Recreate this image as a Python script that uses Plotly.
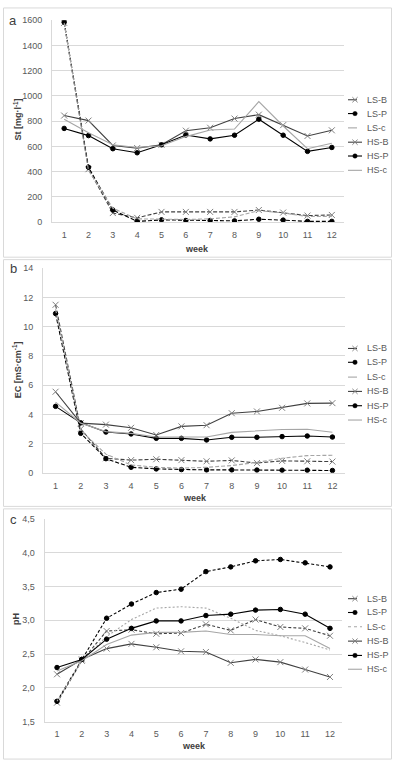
import plotly.graph_objects as go

W, H = 395, 769

# ---------------- data ----------------
weeks = list(range(1, 13))
week_labels = [str(w) for w in weeks]
series_names = ["LS-B", "LS-P", "LS-c", "HS-B", "HS-P", "HS-c"]

st_LS_B = [1580, 420, 72, 34, 81, 81, 81, 81, 96, 76, 52, 57]
st_LS_P = [1585, 435, 96, 6, 18, 13, 13, 10, 23, 16, 6, 6]
st_LS_c = [1580, 410, 110, 26, 24, 21, 26, 42, 91, 73, 44, 46]
st_HS_B = [845, 805, 608, 587, 613, 725, 748, 821, 852, 769, 683, 728]
st_HS_P = [743, 686, 582, 550, 613, 691, 660, 689, 816, 689, 561, 592]
st_HS_c = [815, 709, 613, 592, 605, 678, 730, 738, 955, 762, 582, 626]

ec_LS_B = [11.5, 3.0, 1.0, 0.87, 0.93, 0.87, 0.79, 0.85, 0.67, 0.82, 0.79, 0.77]
ec_LS_P = [10.9, 2.7, 0.97, 0.38, 0.27, 0.22, 0.2, 0.2, 0.19, 0.18, 0.18, 0.16]
ec_LS_c = [11.2, 2.9, 1.28, 0.54, 0.38, 0.32, 0.38, 0.5, 0.72, 1.0, 1.18, 1.2]
ec_HS_B = [5.55, 3.4, 3.3, 3.08, 2.59, 3.18, 3.26, 4.08, 4.2, 4.45, 4.75, 4.77]
ec_HS_P = [4.55, 3.42, 2.79, 2.66, 2.36, 2.36, 2.25, 2.43, 2.43, 2.48, 2.52, 2.45]
ec_HS_c = [4.84, 3.4, 2.82, 2.7, 2.45, 2.45, 2.45, 2.77, 2.88, 2.97, 2.98, 2.78]

ph_LS_B = [1.78, 2.40, 2.84, 2.86, 2.80, 2.81, 2.94, 2.85, 3.01, 2.90, 2.88, 2.77]
ph_LS_P = [1.80, 2.42, 3.03, 3.24, 3.41, 3.46, 3.72, 3.79, 3.88, 3.90, 3.85, 3.79]
ph_LS_c = [1.80, 2.40, 2.76, 3.01, 3.18, 3.20, 3.18, 3.03, 2.85, 2.77, 2.67, 2.56]
ph_HS_B = [2.20, 2.42, 2.58, 2.65, 2.60, 2.54, 2.53, 2.37, 2.42, 2.38, 2.27, 2.16]
ph_HS_P = [2.30, 2.42, 2.72, 2.88, 2.99, 2.99, 3.07, 3.09, 3.15, 3.16, 3.09, 2.88]
ph_HS_c = [2.25, 2.40, 2.64, 2.78, 2.82, 2.82, 2.84, 2.79, 2.79, 2.77, 2.77, 2.58]

st_ticks = [0, 200, 400, 600, 800, 1000, 1200, 1400, 1600]
ec_ticks = [0, 2, 4, 6, 8, 10, 12, 14]
ph_ticks = [1.5, 2.0, 2.5, 3.0, 3.5, 4.0, 4.5]
ph_ticktext = ["1,5", "2,0", "2,5", "3,0", "3,5", "4,0", "4,5"]

# ---------------- styles ----------------
DARK = "#404040"
LIGHT = "#a6a6a6"
XMK = "#808080"
GRID = "#d9d9d9"
TXT = "#595959"
FONT = "Liberation Sans"

styles = {
    "LS-B": dict(color=DARK, dash="4px,2px", marker="x-thin", mcolor=XMK),
    "LS-P": dict(color="#000000", dash="4px,2px", marker="circle", mcolor="#000000"),
    "LS-c": dict(color=LIGHT, dash="4px,2px", marker=None, mcolor=None),
    "HS-B": dict(color=DARK, dash="solid", marker="x-thin", mcolor=XMK),
    "HS-P": dict(color="#000000", dash="solid", marker="circle", mcolor="#000000"),
    "HS-c": dict(color=LIGHT, dash="solid", marker=None, mcolor=None),
}
ph_dash = {"LS-B": "3px,2px", "LS-P": "3px,2px", "LS-c": "2px,2px"}

panels = [
    dict(ax="", data=[st_LS_B, st_LS_P, st_LS_c, st_HS_B, st_HS_P, st_HS_c]),
    dict(ax="2", data=[ec_LS_B, ec_LS_P, ec_LS_c, ec_HS_B, ec_HS_P, ec_HS_c]),
    dict(ax="3", data=[ph_LS_B, ph_LS_P, ph_LS_c, ph_HS_B, ph_HS_P, ph_HS_c]),
]

fig = go.Figure()
for pi, p in enumerate(panels):
    for name, vals in zip(series_names, p["data"]):
        s = styles[name]
        dash = s["dash"]
        if pi == 2 and name in ph_dash:
            dash = ph_dash[name]
        mode = "lines+markers" if s["marker"] else "lines"
        mk = dict(symbol=s["marker"], size=6 if s["marker"] == "x-thin" else 4.5,
                  color=s["mcolor"], line=dict(color=s["mcolor"], width=1)) if s["marker"] else None
        fig.add_trace(go.Scatter(
            x=weeks, y=vals, name=name, mode=mode,
            line=dict(color=s["color"], width=1.1, dash=dash),
            marker=mk, showlegend=False,
            xaxis="x" + p["ax"], yaxis="y" + p["ax"],
        ))

def px(v):
    return v / W

def py(v):
    return 1 - v / H

# plot-area pixel boxes (left, right, top, bottom)
boxes = [(52, 344, 15.5, 220), (43, 345, 266.7, 474), (44.6, 342.4, 520.7, 726)]
yranges = [[0, 1600], [0, 14], [1.5, 4.5]]
yticks = [(st_ticks, [str(t) for t in st_ticks]), (ec_ticks, [str(t) for t in ec_ticks]), (ph_ticks, ph_ticktext)]

axis_font = dict(family=FONT, size=9, color=TXT)
for i, (l, r, t, b) in enumerate(boxes):
    suf = "" if i == 0 else str(i + 1)
    fig.update_layout(**{
        "xaxis" + suf: dict(domain=[px(l), px(r)], range=[0.5, 12.5], anchor="y" + suf,
                            tickvals=weeks, ticktext=week_labels, showgrid=False,
                            showline=True, linecolor=GRID, linewidth=1, zeroline=False,
                            ticks="", tickfont=axis_font, ticklabelstandoff=4, fixedrange=True),
        "yaxis" + suf: dict(domain=[py(b), py(t)], range=yranges[i], anchor="x" + suf,
                            tickvals=yticks[i][0], ticktext=yticks[i][1], showgrid=True,
                            gridcolor=GRID, gridwidth=1, showline=True, linecolor=GRID,
                            linewidth=1, zeroline=False, ticks="", tickfont=axis_font,
                            ticklabelstandoff=7, fixedrange=True),
    })

shapes = []
annotations = []

# panel frames
for (y0, y1) in [(3, 255.5), (258, 508), (510.5, 764)]:
    shapes.append(dict(type="rect", xref="paper", yref="paper", x0=px(3.5), x1=px(391.5),
                       y0=py(y1), y1=py(y0), line=dict(color=GRID, width=1), layer="below"))

# panel letters
for lab, yy in [("a", 16), ("b", 267), ("c", 521)]:
    annotations.append(dict(text=lab, x=px(13), y=py(yy), xref="paper", yref="paper",
                            showarrow=False, font=dict(family=FONT, size=13, color="#404040"),
                            xanchor="center", yanchor="middle"))

# axis titles
ytitles = [("St [mg·l<sup>-1</sup>]", 18, 116), ("EC [mS·cm<sup>-1</sup>]", 17, 370), ("pH", 16, 622)]
for txt, xx, yy in ytitles:
    annotations.append(dict(text="<b>" + txt + "</b>", x=px(xx), y=py(yy), xref="paper", yref="paper",
                            showarrow=False, textangle=-90,
                            font=dict(family=FONT, size=9, color="#404040"),
                            xanchor="center", yanchor="middle"))
for xx, yy in [(197, 247), (195, 499), (194, 751)]:
    annotations.append(dict(text="<b>week</b>", x=px(xx), y=py(yy), xref="paper", yref="paper",
                            showarrow=False, font=dict(family=FONT, size=9, color="#404040"),
                            xanchor="center", yanchor="middle"))

# legends (drawn as layout decoration next to each panel)
legend_rows = [
    [96, 110, 124.5, 139, 153, 167.5],
    [348, 362, 377, 391.5, 406, 420.5],
    [601.5, 615.5, 630, 644.5, 659, 673],
]
for pi, rows in enumerate(legend_rows):
    for name, yy in zip(series_names, rows):
        s = styles[name]
        dash = "dash" if s["dash"] != "solid" else "solid"
        if pi == 2 and name == "LS-c":
            dash = "dot"
        shapes.append(dict(type="line", xref="paper", yref="paper", x0=px(348), x1=px(362),
                           y0=py(yy), y1=py(yy), line=dict(color=s["color"], width=1.1, dash=dash)))
        cx = 355
        if s["marker"] == "x-thin":
            d = 2.6
            path = (f"M {px(cx-d)} {py(yy-d)} L {px(cx+d)} {py(yy+d)} "
                    f"M {px(cx-d)} {py(yy+d)} L {px(cx+d)} {py(yy-d)}")
            shapes.append(dict(type="path", xref="paper", yref="paper", path=path,
                               line=dict(color=XMK, width=1)))
        elif s["marker"] == "circle":
            rr = 2.2
            shapes.append(dict(type="circle", xref="paper", yref="paper",
                               x0=px(cx - rr), x1=px(cx + rr), y0=py(yy + rr), y1=py(yy - rr),
                               fillcolor="#000000", line=dict(color="#000000", width=0.5)))
        annotations.append(dict(text=name, x=px(365), y=py(yy), xref="paper", yref="paper",
                                showarrow=False, font=dict(family=FONT, size=9, color=TXT),
                                xanchor="left", yanchor="middle"))

fig.update_layout(
    width=W, height=H,
    margin=dict(l=0, r=0, t=0, b=0),
    paper_bgcolor="white", plot_bgcolor="white",
    showlegend=False,
    shapes=shapes, annotations=annotations,
    font=dict(family=FONT, size=9, color=TXT),
)

fig.write_html("out.html", config={"displayModeBar": False},
               post_script="document.body.style.margin='0';document.body.style.overflow='hidden';")
